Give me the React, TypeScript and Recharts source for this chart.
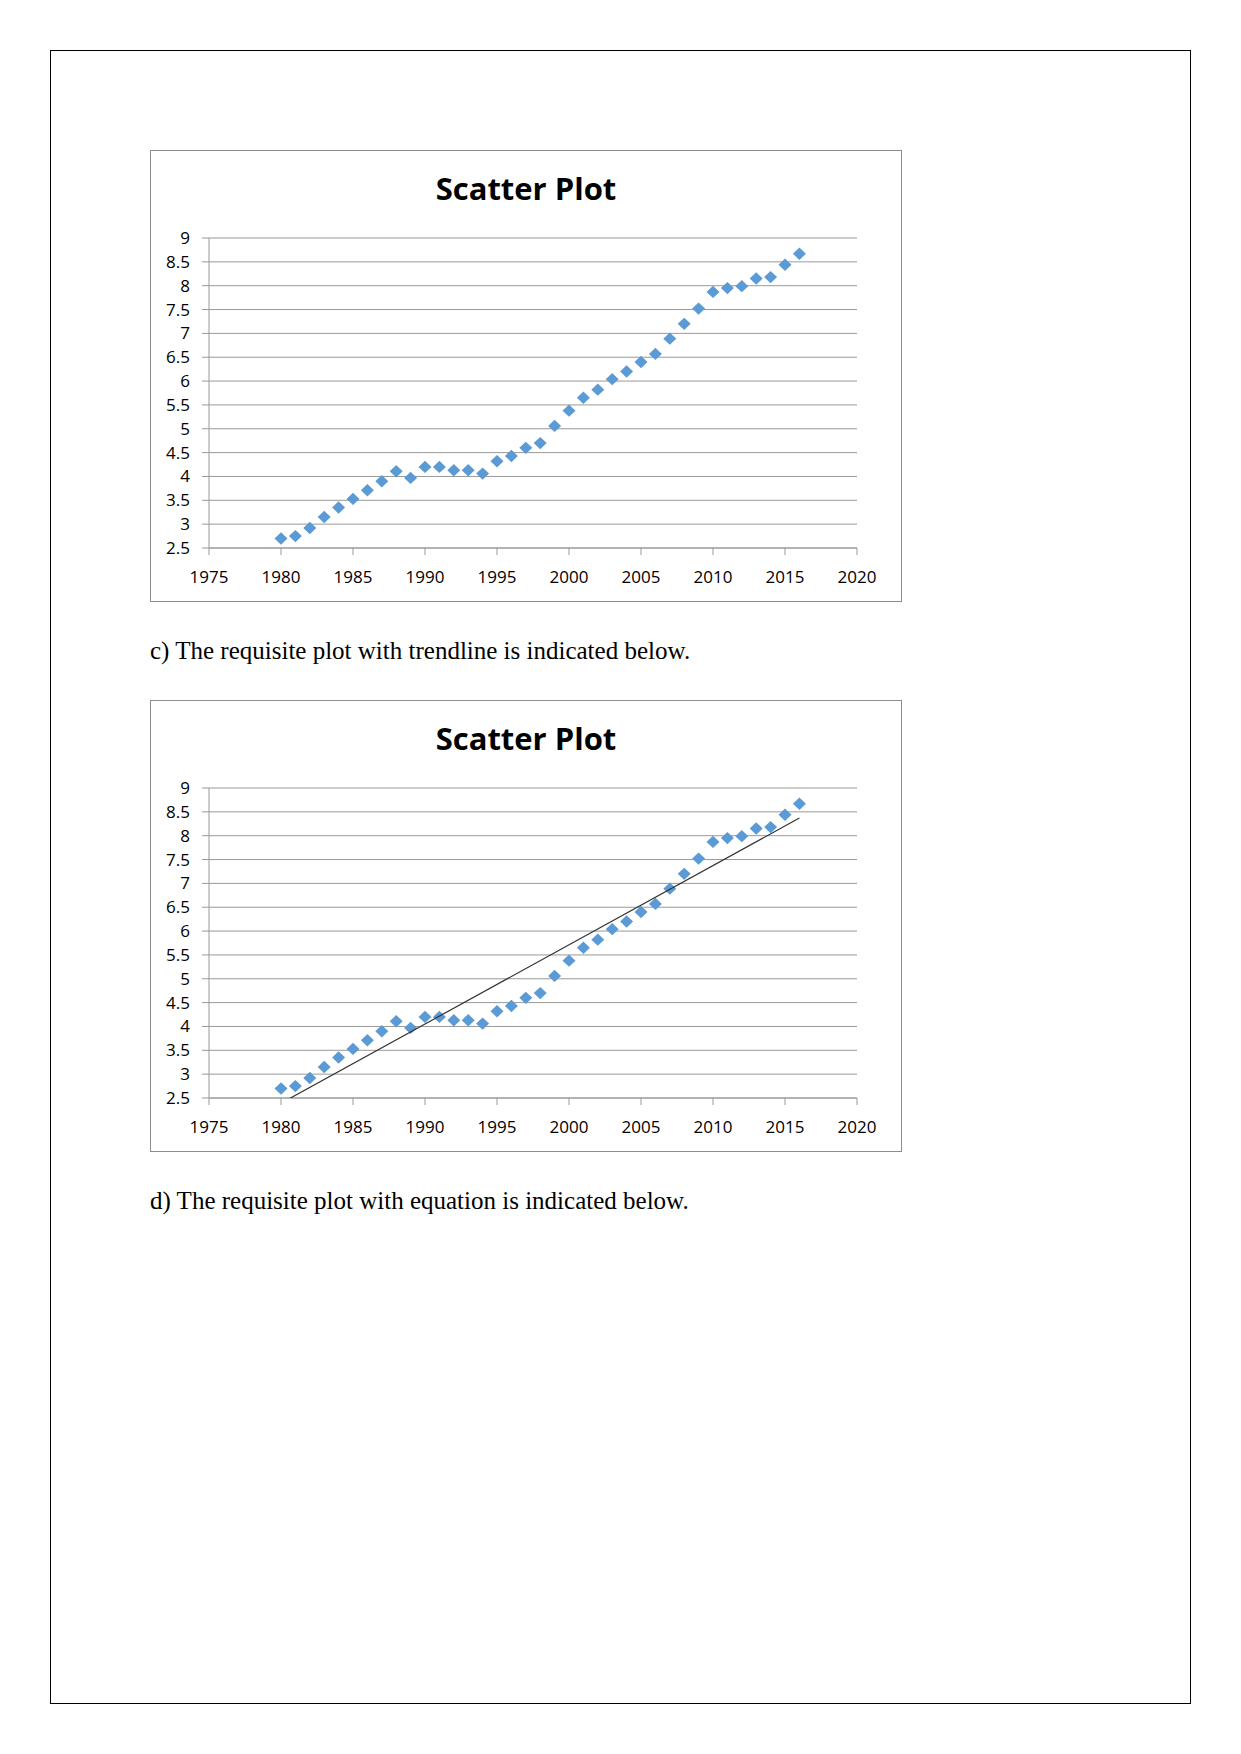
import { ScatterChart, Scatter, XAxis, YAxis, CartesianGrid } from "recharts"

// values, one per year
const years = [
  1980, 1981, 1982, 1983, 1984, 1985, 1986, 1987, 1988, 1989,
  1990, 1991, 1992, 1993, 1994, 1995, 1996, 1997, 1998, 1999,
  2000, 2001, 2002, 2003, 2004, 2005, 2006, 2007, 2008, 2009,
  2010, 2011, 2012, 2013, 2014, 2015, 2016,
]
const values = [
  2.7, 2.75, 2.92, 3.15, 3.35, 3.53, 3.71, 3.9, 4.11, 3.97,
  4.2, 4.2, 4.13, 4.13, 4.06, 4.32, 4.43, 4.6, 4.7, 5.06,
  5.38, 5.65, 5.82, 6.04, 6.2, 6.4, 6.57, 6.89, 7.2, 7.52,
  7.87, 7.95, 7.99, 8.15, 8.18, 8.44, 8.67,
]

// trendline end points as drawn in the second chart
const trendYears = [1980, 2016]
const trendValues = [2.39, 8.37]

const xTicks = [1975, 1980, 1985, 1990, 1995, 2000, 2005, 2010, 2015, 2020]
const yTicks = [2.5, 3, 3.5, 4, 4.5, 5, 5.5, 6, 6.5, 7, 7.5, 8, 8.5, 9]

const points = years.map((year, i) => ({ year, value: values[i] }))
const trend = trendYears.map((year, i) => ({ year, value: trendValues[i] }))

const gridColor = "#999999"
const tickStyle = { fontFamily: "'Open Sans'", fontSize: 17, fill: "#000" }

function Diamond(props: any) {
  const { cx, cy } = props
  if (cx == null || cy == null) return null
  const w = 6.5
  const h = 6.2
  return <path d={`M${cx},${cy - h}L${cx + w},${cy}L${cx},${cy + h}L${cx - w},${cy}Z`} fill="#5b9bd5" />
}

function ScatterPlot({ top, showTrend }: { top: number; showTrend?: boolean }) {
  return (
    <div
      style={{
        position: "absolute",
        left: 150,
        top,
        width: 750,
        height: 450,
        border: "1px solid #8c8c8c",
        background: "#fff",
      }}
    >
      <div
        style={{
          position: "absolute",
          left: 0,
          top: 22,
          width: "100%",
          textAlign: "center",
          fontFamily: "'Open Sans'",
          fontWeight: 700,
          fontSize: 31,
          lineHeight: "31px",
          color: "#000",
        }}
      >
        Scatter Plot
      </div>
      <ScatterChart width={750} height={450} margin={{ top: 87, right: 44, bottom: 0, left: 0 }}>
        <CartesianGrid vertical={false} stroke={gridColor} />
        <XAxis
          type="number"
          dataKey="year"
          domain={[1975, 2020]}
          ticks={xTicks}
          interval={0}
          height={53}
          tickSize={7}
          tickMargin={16}
          axisLine={{ stroke: gridColor }}
          tickLine={{ stroke: gridColor }}
          tick={tickStyle}
        />
        <YAxis
          type="number"
          dataKey="value"
          domain={[2.5, 9]}
          ticks={yTicks}
          interval={0}
          allowDataOverflow
          width={58}
          tickSize={7}
          tickMargin={12}
          axisLine={{ stroke: gridColor }}
          tickLine={{ stroke: gridColor }}
          tick={tickStyle}
        />
        <Scatter data={points} shape={Diamond} isAnimationActive={false} />
        {showTrend && (
          <Scatter
            data={trend}
            line={{ stroke: "#333", strokeWidth: 1.2 }}
            shape={() => <g />}
            isAnimationActive={false}
          />
        )}
      </ScatterChart>
    </div>
  )
}

const textStyle = {
  position: "absolute" as const,
  left: 150,
  fontFamily: "'Liberation Serif'",
  fontSize: 25,
  lineHeight: "25px",
  color: "#000",
  whiteSpace: "nowrap" as const,
}

export default function App() {
  return (
    <div style={{ position: "absolute", left: 0, top: 0, width: 1241, height: 1754, background: "#fff" }}>
      <div
        style={{
          position: "absolute",
          left: 50,
          top: 50,
          width: 1139,
          height: 1652,
          border: "1px solid #000",
        }}
      />
      <ScatterPlot top={150} />
      <div style={{ ...textStyle, top: 638 }}>c) The requisite plot with trendline is indicated below.</div>
      <ScatterPlot top={700} showTrend />
      <div style={{ ...textStyle, top: 1188 }}>d) The requisite plot with equation is indicated below.</div>
    </div>
  )
}
